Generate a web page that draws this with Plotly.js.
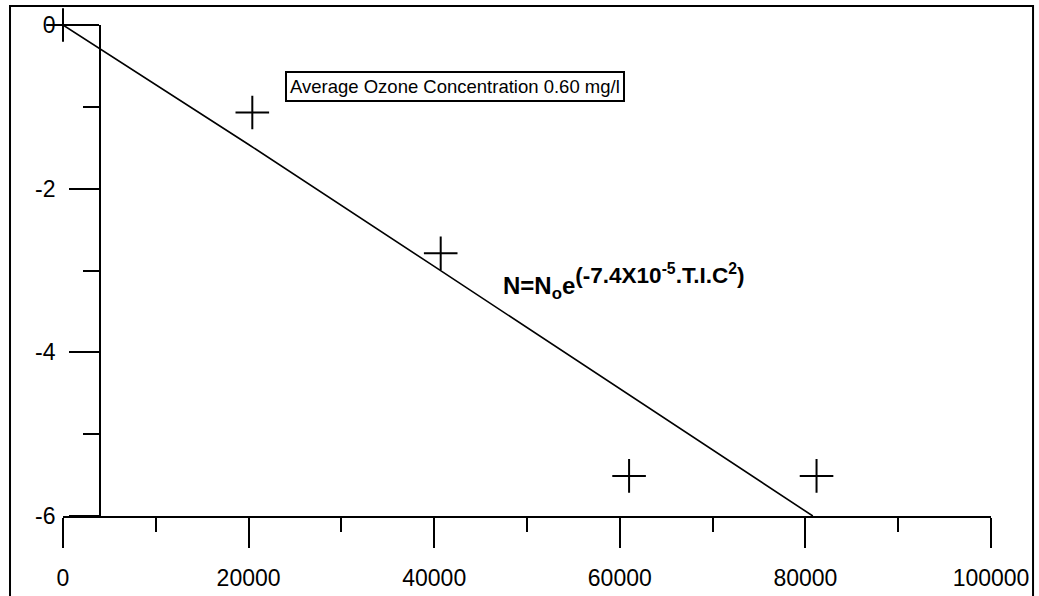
<!DOCTYPE html>
<html>
<head>
<meta charset="utf-8">
<script src="https://cdn.plot.ly/plotly-3.0.1.min.js"></script>
<style>html,body{margin:0;padding:0;background:#fff;}#chart{width:1039px;height:596px;}</style>
</head>
<body>
<div id="chart"></div>
<script>
// Measured points (T.I.C product vs ln(N/No))
const pointX = [0, 20400, 40700, 61000, 81200];
const pointY = [0, -1.07, -2.79, -5.51, -5.51];
// Fitted curve
const fitX = [0, 20000, 40000, 60000, 80800];
const fitY = [0, -1.46, -2.95, -4.45, -6.0];
// Tick labels
const xTickVals = [0, 20000, 40000, 60000, 80000, 100000];
const xTickText = ['0', '20000', '40000', '60000', '80000', '100000'];
const yTickVals = [0, -2, -4, -6];
const yTickText = ['0', '-2', '-4', '-6'];

const font = {family: 'Liberation Sans, Arial, sans-serif', color: '#000'};

const traces = [
  {
    x: fitX, y: fitY, mode: 'lines', type: 'scatter',
    line: {color: '#000', width: 1.6}, cliponaxis: false, hoverinfo: 'skip'
  },
  {
    x: pointX, y: pointY, mode: 'markers', type: 'scatter',
    marker: {symbol: 'cross-thin', size: 24, color: '#000', line: {color: '#000', width: 2}},
    cliponaxis: false
  }
];

const layout = {
  width: 1039, height: 596,
  margin: {l: 63, r: 48, t: 25, b: 80},
  paper_bgcolor: '#fff', plot_bgcolor: '#fff',
  showlegend: false,
  font: Object.assign({size: 22}, font),
  xaxis: {
    range: [0, 100000], showgrid: false, zeroline: false,
    showline: true, linecolor: '#000', linewidth: 2,
    ticks: 'outside', ticklen: 30, tickwidth: 2, tickcolor: '#000',
    tickvals: xTickVals, ticktext: xTickText,
    tickfont: Object.assign({size: 23}, font),
    ticklabelstandoff: 10,
    minor: {dtick: 10000, tick0: 0, ticks: 'outside', ticklen: 14, tickwidth: 2, tickcolor: '#000', showgrid: false}
  },
  yaxis: {
    range: [-6, 0], showgrid: false, zeroline: false,
    anchor: 'free', position: 0.0399,
    showline: true, linecolor: '#000', linewidth: 2,
    ticks: 'outside', ticklen: 30, tickwidth: 2, tickcolor: '#000',
    tickvals: yTickVals, ticktext: yTickText,
    tickfont: Object.assign({size: 23}, font),
    ticklabelstandoff: 9,
    minor: {dtick: 1, tick0: 0, ticks: 'outside', ticklen: 16, tickwidth: 2, tickcolor: '#000', showgrid: false}
  },
  shapes: [
    {type: 'rect', xref: 'paper', yref: 'paper', x0: -0.0571, x1: 1.0453, y0: -0.3, y1: 1.0387,
     line: {color: '#000', width: 2}, fillcolor: 'rgba(0,0,0,0)', layer: 'above'}
  ],
  annotations: [
    {xref: 'paper', yref: 'paper', x: 0.4219, y: 0.8757, xanchor: 'center', yanchor: 'middle',
     text: 'Average Ozone Concentration 0.60 mg/l', showarrow: false,
     font: Object.assign({size: 18.5}, font), bordercolor: '#000', borderwidth: 2, borderpad: 3, bgcolor: '#fff'},
    {xref: 'paper', yref: 'paper', x: 0.472, y: 0.478, xanchor: 'left', yanchor: 'middle',
     text: '<b>N=N<sub>o</sub>e<sup><span style="font-size:22.5px">(-7.4X10<sup>-5</sup>.T.I.C<sup>2</sup>)</span></sup></b>', showarrow: false,
     font: Object.assign({size: 24}, font)}
  ]
};

Plotly.newPlot('chart', traces, layout, {staticPlot: true, displayModeBar: false});
</script>
</body>
</html>
